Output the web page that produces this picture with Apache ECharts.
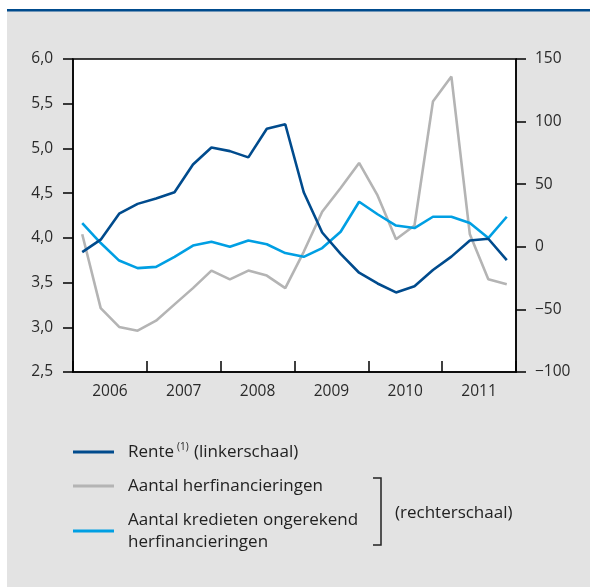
<!DOCTYPE html>
<html>
<head>
<meta charset="utf-8">
<script src="https://cdn.jsdelivr.net/npm/echarts@6/dist/echarts.min.js"></script>
<style>
html,body{margin:0;padding:0;background:#fff;}
#c{width:590px;height:587px;}
</style>
</head>
<body>
<div id="c"></div>
<script>
const quarters = ['2006K1','2006K2','2006K3','2006K4','2007K1','2007K2','2007K3','2007K4','2008K1','2008K2','2008K3','2008K4','2009K1','2009K2','2009K3','2009K4','2010K1','2010K2','2010K3','2010K4','2011K1','2011K2','2011K3','2011K4'];
const years = ['2006','2007','2008','2009','2010','2011'];
const rente = [3.84,3.98,4.27,4.38,4.44,4.51,4.82,5.01,4.97,4.90,5.22,5.27,4.51,4.06,3.82,3.61,3.49,3.39,3.46,3.64,3.79,3.97,3.99,3.75];
const herfin = [10,-49,-64,-67,-59,-46,-33,-19,-26,-19,-23,-33,-4,28,47,67,41,6,17,116,136,10,-26,-30];
const kredieten = [19,3,-11,-17,-16,-8,1,4,0,5,2,-5,-8,-1,12,36,26,17,15,24,24,19,7,24];
const leftTicks = [2.5,3.0,3.5,4.0,4.5,5.0,5.5,6.0];
const rightTicks = [-100,-50,0,50,100,150];

const FONT = 'Open Sans';
const TXT = '#2a2a2a';
const LEG = '#222';
const chart = echarts.init(document.getElementById('c'), null, {renderer:'canvas'});

function fmtLeft(v){ return v.toFixed(1).replace('.', ','); }
function fmtRight(v){ return String(v).replace('-', '\u2212'); }

chart.setOption({
  animation:false,
  backgroundColor:'#ffffff',
  graphic:[
    {type:'rect', shape:{x:7,y:11,width:583,height:576}, style:{fill:'#e3e3e3'}, z:-10, silent:true},
    {type:'rect', shape:{x:7,y:9,width:583,height:2.5}, style:{fill:'#004b8d'}, z:-9, silent:true},
    // legend
    {type:'line', shape:{x1:73,y1:452,x2:114,y2:452}, style:{stroke:'#004b8d',lineWidth:3}},
    {type:'line', shape:{x1:73,y1:486,x2:114,y2:486}, style:{stroke:'#b4b4b4',lineWidth:3}},
    {type:'line', shape:{x1:73,y1:531,x2:114,y2:531}, style:{stroke:'#009fe3',lineWidth:3}},
    {type:'text', x:128, y:452, style:{text:'Rente', fontFamily:FONT, fontSize:17, fill:LEG, verticalAlign:'middle'}},
    {type:'text', x:177, y:447, style:{text:'(1)', fontFamily:FONT, fontSize:10, fill:LEG, verticalAlign:'middle'}},
    {type:'text', x:194, y:452, style:{text:'(linkerschaal)', fontFamily:FONT, fontSize:17, fill:LEG, verticalAlign:'middle'}},
    {type:'text', x:128, y:486, style:{text:'Aantal herfinancieringen', fontFamily:FONT, fontSize:17, fill:LEG, verticalAlign:'middle'}},
    {type:'text', x:128, y:520, style:{text:'Aantal kredieten ongerekend', fontFamily:FONT, fontSize:17, fill:LEG, verticalAlign:'middle'}},
    {type:'text', x:128, y:542, style:{text:'herfinancieringen', fontFamily:FONT, fontSize:17, fill:LEG, verticalAlign:'middle'}},
    {type:'polyline', shape:{points:[[373,478],[381,478],[381,545],[373,545]]}, style:{stroke:'#222',lineWidth:1.5,fill:null}},
    {type:'text', x:395, y:513, style:{text:'(rechterschaal)', fontFamily:FONT, fontSize:17, fill:LEG, verticalAlign:'middle'}}
  ],
  grid:{left:73,right:74,top:59,bottom:215,show:true,backgroundColor:'#ffffff',borderColor:'#000',borderWidth:1.5},
  xAxis:[
    {type:'category', data:quarters, boundaryGap:true, position:'bottom', show:false},
    {type:'category', data:years, boundaryGap:true, position:'bottom',
     axisLine:{show:true,lineStyle:{color:'#000',width:1.5}},
     axisTick:{show:true,inside:true,length:11,lineStyle:{color:'#000',width:1.5}},
     axisLabel:{color:TXT,fontFamily:FONT,fontSize:15.5,margin:12},
     splitLine:{show:false}}
  ],
  yAxis:[
    {type:'value', min:2.5, max:6, interval:0.5, position:'left',
     axisLine:{show:true,lineStyle:{color:'#000',width:1.5}},
     axisTick:{show:true,length:10,lineStyle:{color:'#000',width:1.5}},
     axisLabel:{color:TXT,fontFamily:FONT,fontSize:15.5,margin:20,formatter:fmtLeft},
     splitLine:{show:false}},
    {type:'value', min:-100, max:150, interval:50, position:'right',
     axisLine:{show:true,lineStyle:{color:'#000',width:1.5}},
     axisTick:{show:true,length:10,lineStyle:{color:'#000',width:1.5}},
     axisLabel:{color:TXT,fontFamily:FONT,fontSize:15.5,margin:19,formatter:fmtRight},
     splitLine:{show:false}}
  ],
  series:[
    {name:'Aantal herfinancieringen', type:'line', xAxisIndex:0, yAxisIndex:1, data:herfin, symbol:'none',
     lineStyle:{color:'#b4b4b4',width:2.6}, z:2},
    {name:'Aantal kredieten ongerekend herfinancieringen', type:'line', xAxisIndex:0, yAxisIndex:1, data:kredieten, symbol:'none',
     lineStyle:{color:'#009fe3',width:2.6}, z:3},
    {name:'Rente', type:'line', xAxisIndex:0, yAxisIndex:0, data:rente, symbol:'none',
     lineStyle:{color:'#004b8d',width:2.6}, z:4}
  ]
});
</script>
</body>
</html>
